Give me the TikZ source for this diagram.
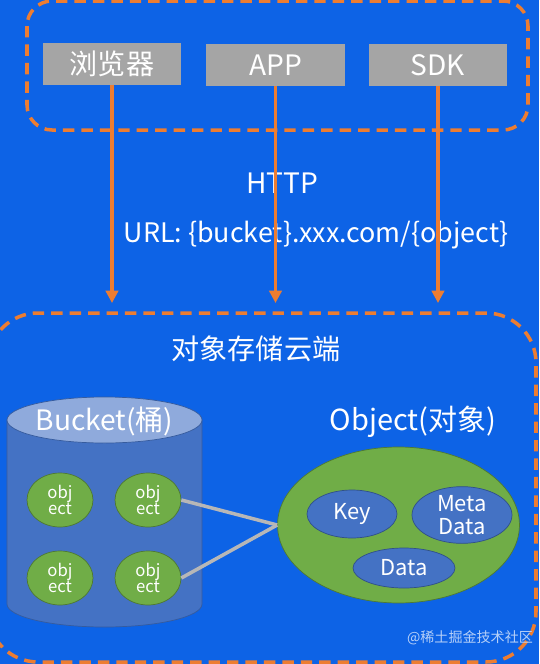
\documentclass[tikz,border=0pt]{standalone}
\usepackage{fontspec}
\setmainfont{Noto Sans CJK SC}
\usepackage{xcolor}
\usetikzlibrary{arrows.meta,shapes.geometric}
\definecolor{sky}{HTML}{0D63E6}
\definecolor{rust}{HTML}{ED7D31}
\definecolor{stone}{HTML}{A5A5A5}
\definecolor{moss}{HTML}{70AD47}
\definecolor{navy}{HTML}{4472C4}
\definecolor{pale}{HTML}{8FAADC}

\begin{document}
\begin{tikzpicture}[
  x=0.02cm,
  y=-0.02cm,
  client/.style={fill=stone, text=white, minimum width=2.78cm, minimum height=0.84cm, inner sep=0pt, font=\fontsize{16}{19}\selectfont},
  zone/.style={draw=rust, line width=2pt, dash pattern=on 6.5pt off 4pt, rounded corners},
  arrow/.style={-{Triangle[length=7pt,width=7pt]}, draw=rust, line width=2.2pt},
  obj/.style={ellipse, fill=moss, draw=moss!70!black, text=white, minimum width=1.32cm, minimum height=1.08cm, inner sep=0pt, align=center, font=\fontsize{9.5}{9.5}\selectfont},
  part/.style={ellipse, fill=navy, draw=navy!70!black, text=white, inner sep=0pt, align=center, font=\fontsize{12.5}{13.5}\selectfont},
  label/.style={text=white, font=\fontsize{16}{19}\selectfont},
  link/.style={draw=stone!80!white, line width=2pt}
]
  \useasboundingbox (0,0) rectangle (539,664);
  \clip (0,0) rectangle (539,664);
  \fill[sky] (0,0) rectangle (539,664);

  % clients
  \draw[zone, rounded corners=0.5cm] (27,1) rectangle (528,130);
  \node[client] (browser) at (112,63.5) {浏览器};
  \node[client] (app) at (275.5,65) {APP};
  \node[client] (sdk) at (438,65) {SDK};

  \node[label] (http) at (282,183) {HTTP};
  \node[label, font=\fontsize{15.3}{18}\selectfont] (url) at (316,235) {URL: \{bucket\}.xxx.com/\{object\}};

  \coordinate (cloudtop) at (0,303);
  \draw[arrow] (browser) -- (browser |- cloudtop);
  \draw[arrow] (app) -- (app |- cloudtop);
  \draw[arrow] (sdk) -- (sdk |- cloudtop);

  % storage side
  \draw[zone, rounded corners=1cm] (-12,313) rectangle (536,662);
  \node[label] (cloud) at (256,349) {对象存储云端};

  \fill[navy, draw=navy!80!black] (7,420) -- (7,604) arc[start angle=180, end angle=0, x radius=97.5, y radius=23] -- (202,420) -- cycle;
  \fill[pale, draw=navy!80!black] (104.5,420) ellipse[x radius=97.5, y radius=23];
  \node[label, font=\fontsize{16}{19}\selectfont] (bucket) at (104.5,421) {Bucket(桶)};

  \node[obj] (o1) at (60,500) {obj\\ect};
  \node[obj] (o2) at (148,500) {obj\\ect};
  \node[obj] (o3) at (60,578) {obj\\ect};
  \node[obj] (o4) at (148,578) {obj\\ect};

  \node[ellipse, fill=moss, draw=moss!70!black, minimum width=4.84cm, minimum height=3.12cm] (object) at (398.5,525) {};
  \node[label, font=\fontsize{16.5}{19}\selectfont] (objtitle) at (413,422) {Object(对象)};
  \node[part, minimum width=1.8cm, minimum height=0.96cm] (key) at (352,514) {Key};
  \node[part, minimum width=2cm, minimum height=0.92cm] (meta) at (462,515) {Meta\\Data};
  \node[part, minimum width=2.04cm, minimum height=0.8cm] (data) at (404,568) {Data};

  \draw[link] (o2.east) -- (object.west);
  \draw[link] (o4.east) -- (object.west);

  \node[text=white!70!sky, font=\fontsize{8}{9}\selectfont] (mark) at (470,638) {@稀土掘金技术社区};
\end{tikzpicture}
\end{document}
